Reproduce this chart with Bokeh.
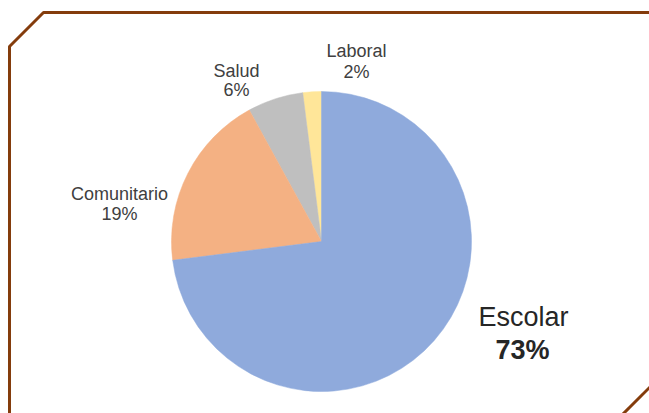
import numpy as np
from bokeh.plotting import figure
from bokeh.models import Range1d, ColumnDataSource
from bokeh.core.properties import value
from bokeh.embed import file_html
from bokeh.resources import INLINE

# ---- data ----
categories = ["Laboral", "Salud", "Comunitario", "Escolar"]
percents = [2, 6, 19, 73]
colors = ["#FFE699", "#BFBFBF", "#F4B183", "#8FAADC"]

# ---- layout (page pixel coords) ----
W, H = 649, 413
def Y(page_y):
    return H - page_y

p = figure(width=W, height=H, output_backend="svg", toolbar_location=None,
           x_range=Range1d(0, W), y_range=Range1d(0, H),
           min_border=0, background_fill_color="white", border_fill_color="white")
p.outline_line_color = None
p.axis.visible = False
p.grid.visible = False

# pie: counter-clockwise from 12 o'clock
vals = np.array(percents, dtype=float)
frac = vals / vals.sum()
ends = np.pi / 2 + 2 * np.pi * np.cumsum(frac)
starts = np.concatenate([[np.pi / 2], ends[:-1]])
src = ColumnDataSource(dict(start=starts, end=ends, color=colors, cat=categories))
cx, cy, r = 321, Y(241), 150
p.wedge(x=cx, y=cy, radius=r, start_angle="start", end_angle="end",
        fill_color="color", line_color="color", line_width=0.5, source=src)

# frame
frame_col = "#843C0C"
p.line(x=[9, 9, 43, 660], y=[Y(430), Y(46), Y(12), Y(12)], line_color=frame_col, line_width=3)
p.line(x=[620, 660], y=[Y(416), Y(376)], line_color=frame_col, line_width=3)

# labels
small_x = [356, 236, 119]
name_y = [50, 70, 193]
pct_y = [71, 89, 213]
font = value("Liberation Sans")
for i in range(3):
    p.text(x=[small_x[i]], y=[Y(name_y[i])], text=[categories[i]], text_font=font,
           text_font_size="18px", text_color="#404040", text_align="center",
           text_baseline="middle")
    p.text(x=[small_x[i]], y=[Y(pct_y[i])], text=[f"{percents[i]}%"], text_font=font,
           text_font_size="18px", text_color="#404040", text_align="center",
           text_baseline="middle")

p.text(x=[523], y=[Y(316)], text=[categories[3]], text_font=font,
       text_font_size="27px", text_color="#262626", text_align="center",
       text_baseline="middle")
p.text(x=[522], y=[Y(349)], text=[f"{percents[3]}%"], text_font=font,
       text_font_size="27px", text_font_style="bold", text_color="#262626",
       text_align="center", text_baseline="middle")

open("out.html", "w").write(file_html(p, INLINE))
